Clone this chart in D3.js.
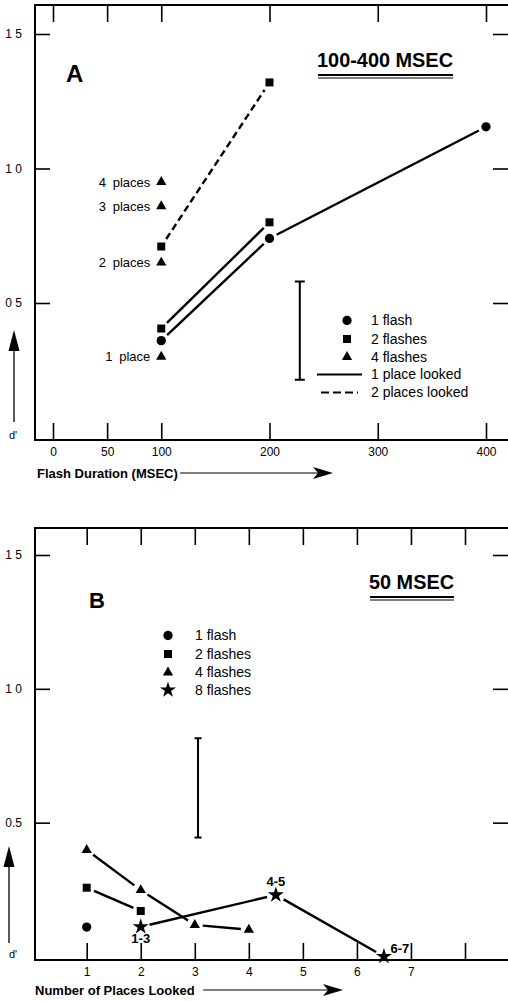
<!DOCTYPE html>
<html>
<head>
<meta charset="utf-8">
<script src="https://cdn.jsdelivr.net/npm/d3@7"></script>
<style>
  body { margin: 0; background: #fff; }
  svg { display: block; font-family: "Liberation Sans", Arial, sans-serif; }
</style>
</head>
<body>
<div id="chart"></div>
<script>
(function() {
  var width = 508, height = 1001;

  // ---- panel A data (flash duration in msec, d')
  var aTicksX = [0, 50, 100, 200, 300, 400];
  var aTicksY = [0.5, 1.0, 1.5];
  var aTickLabelsY = ['0 5', '1 0', '1 5'];
  var aCircleX = [100, 200, 400];
  var aCircleY = [0.36, 0.74, 1.155];
  var aSquare1X = [100, 200];
  var aSquare1Y = [0.405, 0.80];
  var aSquare2X = [100, 200];
  var aSquare2Y = [0.71, 1.32];
  var aTriPlaces = ['1 place', '2 places', '3 places', '4 places'];
  var aTriY = [0.30, 0.65, 0.86, 0.95];
  var aErr = { x: 228, lo: 0.215, hi: 0.58 };

  // ---- panel B data (number of places looked, d')
  var bTicksX = [1, 2, 3, 4, 5, 6, 7, 8];
  var bTickLabelsX = ['1', '2', '3', '4', '5', '6', '7', ''];
  var bTicksY = [0.5, 1.0, 1.5];
  var bTickLabelsY = ['0.5', '1 0', '1 5'];
  var bCircleX = [1];
  var bCircleY = [0.11];
  var bSquareX = [1, 2];
  var bSquareY = [0.257, 0.17];
  var bTriX = [1, 2, 3, 4];
  var bTriY = [0.398, 0.248, 0.118, 0.10];
  var bStarX = [2, 4.5, 6.5];
  var bStarY = [0.111, 0.23, 0.0];
  var bStarLabels = ['1-3', '4-5', '6-7'];
  var bErr = { x: 3.06, lo: 0.445, hi: 0.815 };

  var svg = d3.select('#chart').append('svg').attr('width', width).attr('height', height);

  var sym = {
    circle: d3.symbol().type(d3.symbolCircle).size(68),
    square: d3.symbol().type(d3.symbolSquare).size(64),
    tri: d3.symbol().type(d3.symbolTriangle).size(46),
    star: d3.symbol().type(d3.symbolStar).size(80)
  };

  function zip(xs, ys) {
    return xs.map(function(x, i) { return [x, ys[i]]; });
  }

  // segments between points, shortened at both ends so a gap shows around each marker
  function drawPath(g, x, y, pts, trim, dash) {
    for (var i = 0; i < pts.length - 1; i++) {
      var x1 = x(pts[i][0]), y1 = y(pts[i][1]), x2 = x(pts[i + 1][0]), y2 = y(pts[i + 1][1]);
      var len = Math.sqrt((x2 - x1) * (x2 - x1) + (y2 - y1) * (y2 - y1));
      var ux = (x2 - x1) / len, uy = (y2 - y1) / len;
      g.append('line')
        .attr('x1', x1 + ux * trim).attr('y1', y1 + uy * trim)
        .attr('x2', x2 - ux * trim).attr('y2', y2 - uy * trim)
        .attr('stroke', '#000').attr('stroke-width', 2.4)
        .attr('stroke-dasharray', dash || null);
    }
  }

  function drawMarks(g, x, y, pts, s) {
    g.selectAll(null).data(pts).enter().append('path')
      .attr('d', s)
      .attr('transform', function(d) { return 'translate(' + x(d[0]) + ',' + y(d[1]) + ')'; })
      .attr('fill', '#000');
  }

  function frame(g, left, top, bottom) {
    g.append('path')
      .attr('d', 'M' + width + ',' + top + 'H' + left + 'V' + bottom + 'H' + width)
      .attr('fill', 'none').attr('stroke', '#000').attr('stroke-width', 2);
  }

  function axes(g, x, y, top, bottom, xTicks, xLabels, yTicks, yLabels) {
    var ax = g.append('g').attr('transform', 'translate(0,' + bottom + ')')
      .call(d3.axisBottom(x).tickValues(xTicks).tickSize(-17).tickPadding(7)
        .tickFormat(function(d, i) { return xLabels[i]; }));
    var at = g.append('g').attr('transform', 'translate(0,' + top + ')')
      .call(d3.axisTop(x).tickValues(xTicks).tickSize(-17).tickFormat(''));
    var al = g.append('g').attr('transform', 'translate(35,0)')
      .call(d3.axisLeft(y).tickValues(yTicks).tickSize(-15).tickPadding(13)
        .tickFormat(function(d, i) { return yLabels[i]; }));
    var ar = g.append('g').attr('transform', 'translate(' + width + ',0)')
      .call(d3.axisRight(y).tickValues(yTicks).tickSize(-15).tickFormat(''));
    [ax, at, al, ar].forEach(function(a) {
      a.select('.domain').remove();
      a.selectAll('.tick line').attr('stroke', '#000').attr('stroke-width', 1.6);
      a.selectAll('.tick text').attr('fill', '#000').attr('font-size', 12)
        .attr('font-family', '"Liberation Sans", Arial, sans-serif');
    });
  }

  function upArrow(g, cx, yTip, yBottom) {
    g.append('line').attr('x1', cx).attr('x2', cx).attr('y1', yBottom).attr('y2', yTip + 10)
      .attr('stroke', '#000').attr('stroke-width', 1.3);
    g.append('path')
      .attr('d', 'M' + cx + ',' + yTip + 'L' + (cx - 5.5) + ',' + (yTip + 21) + 'L' + (cx + 5.5) + ',' + (yTip + 21) + 'Z')
      .attr('fill', '#000');
  }

  function rightArrow(g, x0, xTip, cy) {
    g.append('line').attr('x1', x0).attr('x2', xTip - 10).attr('y1', cy).attr('y2', cy)
      .attr('stroke', '#000').attr('stroke-width', 1.2);
    g.append('path')
      .attr('d', 'M' + xTip + ',' + cy + 'L' + (xTip - 20) + ',' + (cy - 6) + 'L' + (xTip - 15) + ',' + cy + 'L' + (xTip - 20) + ',' + (cy + 6) + 'Z')
      .attr('fill', '#000');
  }

  function errBar(g, x, y, e, cap) {
    var cx = x(e.x);
    g.append('path')
      .attr('d', 'M' + (cx - cap) + ',' + y(e.hi) + 'H' + (cx + cap) + 'M' + cx + ',' + y(e.hi) + 'V' + y(e.lo) +
        'M' + (cx - cap) + ',' + y(e.lo) + 'H' + (cx + cap))
      .attr('fill', 'none').attr('stroke', '#000').attr('stroke-width', 2);
  }

  function title(g, txt, x0, base, w) {
    g.append('text').attr('x', x0).attr('y', base).text(txt)
      .attr('font-size', 21).attr('font-weight', 'bold')
      .attr('textLength', w).attr('lengthAdjust', 'spacingAndGlyphs');
    g.append('line').attr('x1', x0 + 1).attr('x2', x0 + w).attr('y1', base + 8).attr('y2', base + 8)
      .attr('stroke', '#000').attr('stroke-width', 2);
    g.append('line').attr('x1', x0 + 1).attr('x2', x0 + w).attr('y1', base + 11).attr('y2', base + 11)
      .attr('stroke', '#000').attr('stroke-width', 1);
  }

  // ================= PANEL A =================
  var xA = d3.scaleLinear().domain([0, 400]).range([53, 486]);
  var yA = d3.scaleLinear().domain([0, 1.5]).range([437.5, 34]);
  var gA = svg.append('g');

  frame(gA, 35, 5, 440);
  axes(gA, xA, yA, 5, 440, aTicksX, aTicksX.map(String), aTicksY, aTickLabelsY);

  drawPath(gA, xA, yA, zip(aCircleX, aCircleY), 8);
  drawPath(gA, xA, yA, zip(aSquare1X, aSquare1Y), 8);
  drawPath(gA, xA, yA, zip(aSquare2X, aSquare2Y), 9, '7,4');

  drawMarks(gA, xA, yA, zip(aCircleX, aCircleY), sym.circle);
  drawMarks(gA, xA, yA, zip(aSquare1X, aSquare1Y), sym.square);
  drawMarks(gA, xA, yA, zip(aSquare2X, aSquare2Y), sym.square);
  var aTriPts = aTriY.map(function(v) { return [100, v]; });
  drawMarks(gA, xA, yA, aTriPts, sym.tri);

  gA.selectAll(null).data(aTriPts).enter().append('text')
    .attr('x', xA(100) - 11)
    .attr('y', function(d) { return yA(d[1]); })
    .attr('dy', '0.35em')
    .attr('text-anchor', 'end')
    .attr('font-size', 13)
    .attr('word-spacing', 3)
    .text(function(d, i) { return aTriPlaces[i]; });

  errBar(gA, xA, yA, aErr, 5);

  // legend A
  var legA = [
    { t: '1 flash', s: sym.circle },
    { t: '2 flashes', s: sym.square },
    { t: '4 flashes', s: sym.tri },
    { t: '1 place looked', line: null },
    { t: '2 places looked', line: '8,4' }
  ];
  var legAY = [320.5, 339, 357, 374.5, 392.5];
  legA.forEach(function(d, i) {
    if (d.s) {
      gA.append('path').attr('d', d.s).attr('transform', 'translate(347,' + legAY[i] + ')');
    } else {
      gA.append('line').attr('x1', d.line ? 321 : 317).attr('x2', d.line ? 358 : 362)
        .attr('y1', legAY[i]).attr('y2', legAY[i])
        .attr('stroke', '#000').attr('stroke-width', 2).attr('stroke-dasharray', d.line);
    }
    gA.append('text').attr('x', 371).attr('y', legAY[i]).attr('dy', '0.35em')
      .attr('font-size', 14).text(d.t);
  });

  gA.append('text').attr('x', 66).attr('y', 82).text('A')
    .attr('font-size', 24).attr('font-weight', 'bold');
  title(gA, '100-400 MSEC', 317, 67, 136);

  upArrow(gA, 14, 330, 422);
  gA.append('text').attr('x', 9).attr('y', 439).attr('font-size', 11).text("d'");
  gA.append('text').attr('x', 37).attr('y', 478).attr('font-size', 13).attr('font-weight', 'bold')
    .text('Flash Duration (MSEC)');
  rightArrow(gA, 180, 333, 473);

  // ================= PANEL B =================
  var xB = d3.scaleLinear().domain([1, 8]).range([86.7, 465]);
  var yB = d3.scaleLinear().domain([0, 1.5]).range([956.5, 555]);
  var gB = svg.append('g');

  frame(gB, 35, 528, 960);
  axes(gB, xB, yB, 528, 960, bTicksX, bTickLabelsX, bTicksY, bTickLabelsY);

  drawPath(gB, xB, yB, zip(bSquareX, bSquareY), 8);
  drawPath(gB, xB, yB, zip(bTriX, bTriY), 8);
  drawPath(gB, xB, yB, zip(bStarX, bStarY), 9);

  drawMarks(gB, xB, yB, zip(bCircleX, bCircleY), sym.circle);
  drawMarks(gB, xB, yB, zip(bSquareX, bSquareY), sym.square);
  drawMarks(gB, xB, yB, zip(bTriX, bTriY), sym.tri);
  drawMarks(gB, xB, yB, zip(bStarX, bStarY), sym.star);

  var starLab = [[0, 12], [0, -13], [16, -8]];
  gB.selectAll(null).data(zip(bStarX, bStarY)).enter().append('text')
    .attr('x', function(d, i) { return xB(d[0]) + starLab[i][0]; })
    .attr('y', function(d, i) { return yB(d[1]) + starLab[i][1]; })
    .attr('dy', '0.35em')
    .attr('text-anchor', 'middle')
    .attr('font-size', 13).attr('font-weight', 'bold')
    .text(function(d, i) { return bStarLabels[i]; });

  errBar(gB, xB, yB, bErr, 3.5);

  var legB = [
    { t: '1 flash', s: sym.circle },
    { t: '2 flashes', s: sym.square },
    { t: '4 flashes', s: sym.tri },
    { t: '8 flashes', s: sym.star }
  ];
  var legBY = [635.5, 654, 672.5, 690];
  legB.forEach(function(d, i) {
    gB.append('path').attr('d', d.s).attr('transform', 'translate(168,' + legBY[i] + ')');
    gB.append('text').attr('x', 195).attr('y', legBY[i]).attr('dy', '0.35em')
      .attr('font-size', 14).text(d.t);
  });

  gB.append('text').attr('x', 89).attr('y', 608).text('B')
    .attr('font-size', 22).attr('font-weight', 'bold');
  title(gB, '50 MSEC', 369, 589, 85);

  upArrow(gB, 9, 846, 943);
  gB.append('text').attr('x', 9).attr('y', 958).attr('font-size', 11).text("d'");
  gB.append('text').attr('x', 35).attr('y', 995).attr('font-size', 13).attr('font-weight', 'bold')
    .text('Number of Places Looked');
  rightArrow(gB, 203, 343, 990);
})();
</script>
</body>
</html>
